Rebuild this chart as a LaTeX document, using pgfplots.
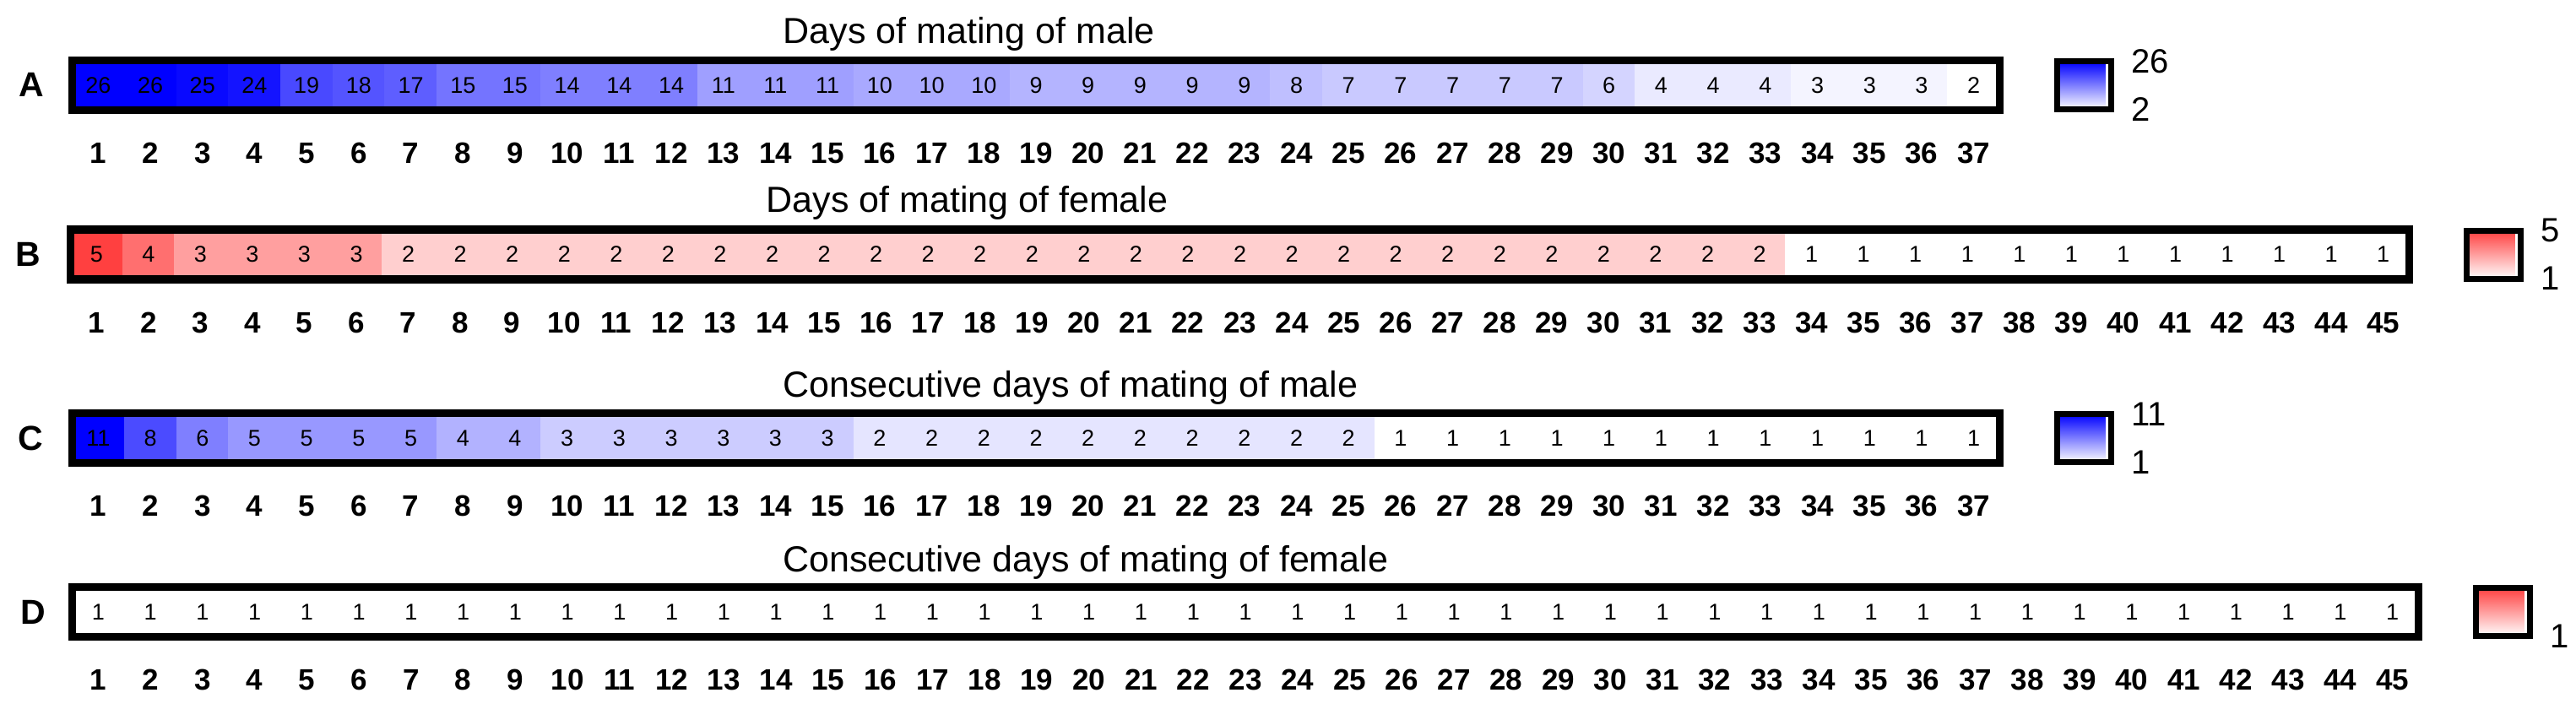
\documentclass[border=0pt]{standalone}
\usepackage{pgfplots}
\pgfplotsset{compat=1.18}
\usepackage{pgfplotstable}
\usepackage{fontspec}
\setmainfont{Liberation Sans}

\pgfplotsset{
  colormap={bluemap}{rgb255=(255,255,255) rgb255=(0,0,255)},
  colormap={redmap}{rgb255=(255,255,255) rgb255=(255,64,64)},
}

\pgfdeclareplotmark{cellmark}{%
  \pgfpathrectangle{\pgfpoint{-7.8pt}{-7.5pt}}{\pgfpoint{15.6pt}{15pt}}%
  \pgfusepathqfill}

\pgfplotstableread{
x y v
1 0 26
2 0 26
3 0 25
4 0 24
5 0 19
6 0 18
7 0 17
8 0 15
9 0 15
10 0 14
11 0 14
12 0 14
13 0 11
14 0 11
15 0 11
16 0 10
17 0 10
18 0 10
19 0 9
20 0 9
21 0 9
22 0 9
23 0 9
24 0 8
25 0 7
26 0 7
27 0 7
28 0 7
29 0 7
30 0 6
31 0 4
32 0 4
33 0 4
34 0 3
35 0 3
36 0 3
37 0 2
}\tabA
\pgfplotstableread{
x y v
1 0 5
2 0 4
3 0 3
4 0 3
5 0 3
6 0 3
7 0 2
8 0 2
9 0 2
10 0 2
11 0 2
12 0 2
13 0 2
14 0 2
15 0 2
16 0 2
17 0 2
18 0 2
19 0 2
20 0 2
21 0 2
22 0 2
23 0 2
24 0 2
25 0 2
26 0 2
27 0 2
28 0 2
29 0 2
30 0 2
31 0 2
32 0 2
33 0 2
34 0 1
35 0 1
36 0 1
37 0 1
38 0 1
39 0 1
40 0 1
41 0 1
42 0 1
43 0 1
44 0 1
45 0 1
}\tabB
\pgfplotstableread{
x y v
1 0 11
2 0 8
3 0 6
4 0 5
5 0 5
6 0 5
7 0 5
8 0 4
9 0 4
10 0 3
11 0 3
12 0 3
13 0 3
14 0 3
15 0 3
16 0 2
17 0 2
18 0 2
19 0 2
20 0 2
21 0 2
22 0 2
23 0 2
24 0 2
25 0 2
26 0 1
27 0 1
28 0 1
29 0 1
30 0 1
31 0 1
32 0 1
33 0 1
34 0 1
35 0 1
36 0 1
37 0 1
}\tabC
\pgfplotstableread{
x y v
1 0 1
2 0 1
3 0 1
4 0 1
5 0 1
6 0 1
7 0 1
8 0 1
9 0 1
10 0 1
11 0 1
12 0 1
13 0 1
14 0 1
15 0 1
16 0 1
17 0 1
18 0 1
19 0 1
20 0 1
21 0 1
22 0 1
23 0 1
24 0 1
25 0 1
26 0 1
27 0 1
28 0 1
29 0 1
30 0 1
31 0 1
32 0 1
33 0 1
34 0 1
35 0 1
36 0 1
37 0 1
38 0 1
39 0 1
40 0 1
41 0 1
42 0 1
43 0 1
44 0 1
45 0 1
}\tabD

\pgfplotsset{
  myheat/.style={
    scale only axis, height=14.75pt, anchor=north west,
    xmin=0.5, xmax=#1.5, ymin=-0.5, ymax=0.5,
    ytick=\empty, xtick={1,...,#1},
    major tick length=0pt,
    axis line style={draw=none},
    /pgf/number format/assume math mode=true,
    xticklabel style={font=\bfseries\fontsize{8.75}{10}\selectfont, anchor=base, yshift=-15.75pt, inner sep=0pt},
    after end axis/.code={\draw[line width=2.3pt, line join=miter] (rel axis cs:0,0) rectangle (rel axis cs:1,1);},
  },
  mycells/.style={
    scatter, only marks, mark=cellmark,
    point meta=\thisrow{v},
  },
  mynums/.style={
    draw=none, mark=none, forget plot,
    point meta=\thisrow{v},
    nodes near coords, nodes near coords align={center},
    every node near coord/.append style={font=\fontsize{6.75}{8}\selectfont, text=black, inner sep=0pt},
  },
  mycbar/.style={
    at={(parent axis.north east)}, anchor=north west, xshift=8.5pt, yshift=-0.3pt,
    scale only axis, width=16pt, height=14.25pt,
    major tick length=0pt,
    axis line style={line width=1.7pt, line cap=rect},
    /pgf/number format/assume math mode=true,
    yticklabel style={font=\fontsize{10}{12}\selectfont, inner sep=0pt, xshift=5.7pt},
  },
}

\begin{document}
\begin{tikzpicture}
\path[use as bounding box] (0pt,0pt) rectangle (762.75pt,-209.75pt);

% A
\begin{axis}[myheat=37, at={(21.375pt,-17.875pt)}, width=570.75pt,
  colormap name=bluemap, point meta min=2, point meta max=26,
  colorbar, colorbar style={mycbar, ytick={2,26}}]
\addplot[mycells] table[x=x, y=y] {\tabA};
\addplot[mynums] table[x=x, y=y] {\tabA};
\end{axis}

% B
\begin{axis}[myheat=45, at={(20.875pt,-68pt)}, width=692.5pt,
  colormap name=redmap, point meta min=1, point meta max=5,
  colorbar, colorbar style={mycbar, ytick={1,5}}]
\addplot[mycells] table[x=x, y=y] {\tabB};
\addplot[mynums] table[x=x, y=y] {\tabB};
\end{axis}

% C
\begin{axis}[myheat=37, at={(21.375pt,-122.375pt)}, width=570.75pt,
  colormap name=bluemap, point meta min=1, point meta max=11,
  colorbar, colorbar style={mycbar, ytick={1,11}}]
\addplot[mycells] table[x=x, y=y] {\tabC};
\addplot[mynums] table[x=x, y=y] {\tabC};
\end{axis}

% D
\begin{axis}[myheat=45, at={(21.375pt,-173.875pt)}, width=694.75pt,
  colormap name=redmap, point meta min=1, point meta max=5,
  colorbar, colorbar style={mycbar, ytick={1}}]
\addplot[mycells] table[x=x, y=y] {\tabD};
\addplot[mynums] table[x=x, y=y] {\tabD};
\end{axis}

% titles
\begin{scope}[every node/.style={inner sep=0pt, anchor=base west, font=\fontsize{10.75}{12}\selectfont}]
\node at (231.75pt,-12.75pt) {Days of mating of male};
\node at (226.75pt,-62.75pt) {Days of mating of female};
\node at (231.6pt,-117.5pt) {Consecutive days of mating of male};
\node at (231.6pt,-169.25pt) {Consecutive days of mating of female};
\end{scope}

% row letters
\begin{scope}[every node/.style={inner sep=0pt, anchor=center, font=\bfseries\fontsize{10.25}{12}\selectfont}]
\node at (9.375pt,-25.125pt) {A};
\node at (8.375pt,-75.375pt) {B};
\node at (9pt,-129.75pt) {C};
\node at (9.875pt,-181.25pt) {D};
\end{scope}
\end{tikzpicture}
\end{document}
